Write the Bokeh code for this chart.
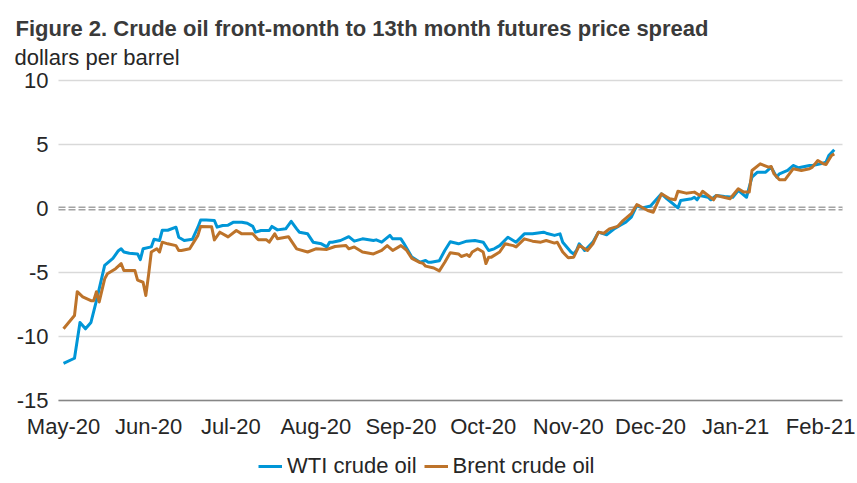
import pandas as pd
from bokeh.plotting import figure
from bokeh.models import (Range1d, FixedTicker, DatetimeTickFormatter, Span, Grid,
                          Label, Legend, LegendItem)
from bokeh.embed import file_html
from bokeh.resources import INLINE

title_text = "Figure 2. Crude oil front-month to 13th month futures price spread"
unit_text = "dollars per barrel"

wti_dates = [
    "2020-05-01", "2020-05-05", "2020-05-07", "2020-05-09", "2020-05-11", "2020-05-13",
    "2020-05-16", "2020-05-19", "2020-05-21", "2020-05-22", "2020-05-23", "2020-05-25",
    "2020-05-28", "2020-05-29", "2020-05-30", "2020-06-02", "2020-06-03", "2020-06-05",
    "2020-06-06", "2020-06-08", "2020-06-11", "2020-06-12", "2020-06-14", "2020-06-17",
    "2020-06-19", "2020-06-20", "2020-06-22", "2020-06-25", "2020-06-26", "2020-06-28",
    "2020-06-30", "2020-07-02", "2020-07-05", "2020-07-07", "2020-07-09", "2020-07-10",
    "2020-07-12", "2020-07-15", "2020-07-16", "2020-07-18", "2020-07-21", "2020-07-23",
    "2020-07-25", "2020-07-26", "2020-07-29", "2020-07-31", "2020-08-03", "2020-08-05",
    "2020-08-06", "2020-08-07", "2020-08-10", "2020-08-13", "2020-08-15", "2020-08-18",
    "2020-08-22", "2020-08-23", "2020-08-25", "2020-08-28", "2020-08-29", "2020-09-01",
    "2020-09-02", "2020-09-05", "2020-09-08", "2020-09-10", "2020-09-11", "2020-09-12",
    "2020-09-15", "2020-09-17", "2020-09-19", "2020-09-22", "2020-09-25", "2020-09-28",
    "2020-10-01", "2020-10-03", "2020-10-05", "2020-10-07", "2020-10-10", "2020-10-13",
    "2020-10-16", "2020-10-19", "2020-10-23", "2020-10-24", "2020-10-27", "2020-10-29",
    "2020-10-30", "2020-11-02", "2020-11-03", "2020-11-04", "2020-11-05", "2020-11-06",
    "2020-11-07", "2020-11-10", "2020-11-12", "2020-11-15", "2020-11-18", "2020-11-20",
    "2020-11-22", "2020-11-24", "2020-11-26", "2020-11-28", "2020-12-01", "2020-12-05",
    "2020-12-07", "2020-12-11", "2020-12-12", "2020-12-16", "2020-12-17", "2020-12-18",
    "2020-12-19", "2020-12-22", "2020-12-23", "2020-12-25", "2020-12-28", "2020-12-31",
    "2021-01-02", "2021-01-05", "2021-01-07", "2021-01-09", "2021-01-12", "2021-01-14",
    "2021-01-16", "2021-01-17", "2021-01-20", "2021-01-22", "2021-01-24", "2021-01-28",
    "2021-01-29", "2021-02-01", "2021-02-03", "2021-02-04", "2021-02-06",
]
wti = [
    -12.1, -11.7, -8.9, -9.4, -8.9, -7.2,
    -4.45, -3.9, -3.3, -3.15, -3.4, -3.5,
    -3.55, -4.0, -3.15, -3.0, -2.4, -2.5,
    -1.7, -1.7, -1.46, -2.24, -2.5, -2.4,
    -1.46, -0.9, -0.9, -0.94, -1.46, -1.33,
    -1.3, -1.07, -1.07, -1.15, -1.4, -1.85,
    -1.72, -1.72, -1.4, -1.67, -1.59, -1.0,
    -1.59, -1.85, -1.98, -2.63, -2.76, -3.0,
    -2.63, -2.63, -2.5, -2.2, -2.55, -2.37,
    -2.5, -2.45, -2.63, -2.1, -2.37, -2.37,
    -2.7, -3.8, -4.2, -4.06, -4.2, -4.2,
    -4.08, -3.28, -2.6, -2.76, -2.55, -2.5,
    -2.63, -3.28, -3.15, -2.9, -2.24, -2.63,
    -1.98, -1.98, -1.85, -1.93, -2.1, -1.98,
    -2.63, -3.4, -3.55, -3.28, -2.76, -3.0,
    -3.28, -2.63, -1.85, -2.05, -1.55, -1.3,
    -1.07, -0.68, 0.23, 0.05, 0.2, 1.15,
    0.76, 0.05, 0.63, 0.76, 0.88, 0.68,
    1.02, 0.88, 0.68, 1.02, 0.94, 0.88,
    1.41, 0.88, 2.45, 2.84, 2.84, 3.23,
    2.45, 2.71, 2.97, 3.36, 3.18, 3.36,
    3.36, 3.49, 3.62, 4.14, 4.59,
]

brent_dates = [
    "2020-05-01", "2020-05-05", "2020-05-06", "2020-05-08", "2020-05-11", "2020-05-12",
    "2020-05-13", "2020-05-14", "2020-05-16", "2020-05-17", "2020-05-20", "2020-05-22",
    "2020-05-23", "2020-05-27", "2020-05-28", "2020-05-30", "2020-05-31", "2020-06-01",
    "2020-06-02", "2020-06-04", "2020-06-05", "2020-06-06", "2020-06-08", "2020-06-11",
    "2020-06-12", "2020-06-13", "2020-06-16", "2020-06-19", "2020-06-20", "2020-06-24",
    "2020-06-25", "2020-06-27", "2020-06-30", "2020-07-03", "2020-07-05", "2020-07-09",
    "2020-07-11", "2020-07-14", "2020-07-15", "2020-07-17", "2020-07-18", "2020-07-22",
    "2020-07-25", "2020-07-29", "2020-08-01", "2020-08-05", "2020-08-08", "2020-08-12",
    "2020-08-13", "2020-08-15", "2020-08-18", "2020-08-22", "2020-08-25", "2020-08-27",
    "2020-08-29", "2020-09-01", "2020-09-03", "2020-09-05", "2020-09-08", "2020-09-09",
    "2020-09-10", "2020-09-13", "2020-09-15", "2020-09-17", "2020-09-19", "2020-09-22",
    "2020-09-23", "2020-09-25", "2020-09-26", "2020-09-27", "2020-09-29", "2020-10-01",
    "2020-10-02", "2020-10-03", "2020-10-04", "2020-10-07", "2020-10-09", "2020-10-12",
    "2020-10-13", "2020-10-16", "2020-10-19", "2020-10-22", "2020-10-24", "2020-10-27",
    "2020-10-28", "2020-10-30", "2020-11-01", "2020-11-03", "2020-11-05", "2020-11-06",
    "2020-11-08", "2020-11-10", "2020-11-12", "2020-11-14", "2020-11-16", "2020-11-19",
    "2020-11-21", "2020-11-24", "2020-11-26", "2020-11-27", "2020-11-30", "2020-12-02",
    "2020-12-05", "2020-12-08", "2020-12-10", "2020-12-11", "2020-12-14", "2020-12-17",
    "2020-12-19", "2020-12-20", "2020-12-22", "2020-12-24", "2020-12-25", "2020-12-30",
    "2021-01-02", "2021-01-04", "2021-01-06", "2021-01-07", "2021-01-10", "2021-01-13",
    "2021-01-14", "2021-01-15", "2021-01-17", "2021-01-19", "2021-01-22", "2021-01-25",
    "2021-01-28", "2021-01-29", "2021-01-31", "2021-02-02", "2021-02-03", "2021-02-05",
    "2021-02-06",
]
brent = [
    -9.4, -8.36, -6.5, -6.9, -7.2, -7.2,
    -6.5, -7.3, -5.5, -5.1, -4.7, -4.3,
    -4.84, -4.84, -5.6, -5.76, -6.8, -5.2,
    -3.4, -3.15, -3.4, -2.63, -2.76, -2.9,
    -3.28, -3.28, -3.15, -2.1, -1.4, -1.43,
    -2.45, -1.85, -2.22, -1.72, -1.98, -1.98,
    -2.45, -2.45, -2.63, -1.98, -2.37, -2.2,
    -3.15, -3.4, -3.15, -3.2, -2.97, -2.9,
    -3.15, -3.0, -3.4, -3.55, -3.28, -2.9,
    -3.28, -2.9, -3.24, -3.9, -4.23, -4.28,
    -4.5, -4.65, -4.87, -4.2, -3.45, -3.55,
    -3.75, -3.6, -3.75, -3.4, -3.15, -3.4,
    -4.3, -3.8, -3.8, -3.4, -2.76, -2.9,
    -3.0, -2.37, -2.55, -2.63, -2.5, -2.7,
    -2.63, -3.4, -3.85, -3.8, -2.9, -3.0,
    -3.28, -2.76, -1.85, -1.93, -1.59, -1.4,
    -0.94, -0.4, 0.3, 0.2, -0.16, -0.29,
    1.15, 0.76, 0.68, 1.35, 1.2, 1.28,
    1.02, 1.35, 1.02, 0.68, 1.02, 0.76,
    1.54, 1.28, 1.28, 2.97, 3.49, 3.23,
    3.28, 2.71, 2.24, 2.24, 3.1, 2.97,
    3.1, 3.23, 3.75, 3.49, 3.44, 4.14,
    4.27,
]

month_ticks = ["2020-05-01", "2020-06-01", "2020-07-01", "2020-08-01", "2020-09-01",
               "2020-10-01", "2020-11-01", "2020-12-01", "2021-01-01", "2021-02-01"]
month_labels = ["May-20", "Jun-20", "Jul-20", "Aug-20", "Sep-20",
                "Oct-20", "Nov-20", "Dec-20", "Jan-21", "Feb-21"]
y_ticks = [-15, -10, -5, 0, 5, 10]
y_tick_labels = ["-15", "-10", "-5", "0", "5", "10"]
zero_line = [0]

FONT = "Liberation Sans"
TXT = "#262626"

# chart area (axis extent); the frame covers the whole canvas so that
# titles, tick labels and legend are all drawn inside it without clipping
x_start = pd.Timestamp("2020-04-29 04:00")
x_end = pd.Timestamp("2021-02-09 00:00")
xs_ms = x_start.value // 10**6
xe_ms = x_end.value // 10**6
PX_PER_DAY = 2.743
PX_PER_UNIT = 12.8
frame_x0 = x_start - pd.Timedelta(days=58 / PX_PER_DAY)
frame_x1 = x_end + pd.Timedelta(days=15 / PX_PER_DAY)
frame_y0 = y_ticks[0] - 83 / PX_PER_UNIT
frame_y1 = y_ticks[-1] + 80 / PX_PER_UNIT

p = figure(width=857, height=483, x_axis_type="datetime", output_backend="svg",
           toolbar_location=None, title=None,
           x_range=Range1d(frame_x0, frame_x1),
           y_range=Range1d(frame_y0, frame_y1),
           min_border_left=0, min_border_right=0, min_border_top=0, min_border_bottom=0)
p.outline_line_color = None
p.background_fill_color = "white"
p.border_fill_color = "white"

# x axis pinned at -15
tick_ms = [int(pd.Timestamp(d).value // 10**6) for d in month_ticks]
xa = p.xaxis[0]
xa.fixed_location = y_ticks[0]
xa.bounds = (xs_ms, xe_ms)
xa.ticker = FixedTicker(ticks=tick_ms)
xa.formatter = DatetimeTickFormatter(days="%b-%y", months="%b-%y", years="%b-%y",
                                     hours="%b-%y", minutes="%b-%y")
xa.major_label_overrides = {t: l for t, l in zip(tick_ms, month_labels)}
xa.major_tick_line_color = None
xa.minor_tick_line_color = None
xa.major_tick_out = 0
xa.major_tick_in = 0
xa.axis_line_color = "#868686"
xa.axis_line_width = 1.3
xa.major_label_standoff = 13
xa.major_label_text_font = FONT
xa.major_label_text_font_size = "22px"
xa.major_label_text_color = TXT

# y axis pinned at the left edge of the chart area
ya = p.yaxis[0]
ya.fixed_location = xs_ms
ya.ticker = FixedTicker(ticks=y_ticks)
ya.major_label_overrides = {t: l for t, l in zip(y_ticks, y_tick_labels)}
ya.axis_line_color = None
ya.major_tick_line_color = None
ya.minor_tick_line_color = None
ya.major_tick_out = 0
ya.major_tick_in = 0
ya.major_label_standoff = 10
ya.major_label_text_font = FONT
ya.major_label_text_font_size = "22px"
ya.major_label_text_color = TXT

has_cb = "cross_bounds" in Grid.properties()

p.xgrid.grid_line_color = None
yg = p.ygrid[0]
yg.ticker = FixedTicker(ticks=[t for t in y_ticks if t not in zero_line])
yg.grid_line_color = "#d9d9d9"
yg.grid_line_width = 1.3
if has_cb:
    yg.cross_bounds = (xs_ms, xe_ms)

# zero line (double dashed)
if has_cb:
    g1 = Grid(dimension=1, ticker=FixedTicker(ticks=zero_line), cross_bounds=(xs_ms, xe_ms),
              grid_line_color="#a3a3a3", grid_line_width=4, grid_line_dash="7 3")
    g2 = Grid(dimension=1, ticker=FixedTicker(ticks=zero_line), cross_bounds=(xs_ms, xe_ms),
              grid_line_color="white", grid_line_width=1.2)
    p.add_layout(g1, "center")
    p.add_layout(g2, "center")
else:
    p.add_layout(Span(location=0, dimension="width", line_color="#a3a3a3",
                      line_width=4, line_dash="7 3"))
    p.add_layout(Span(location=0, dimension="width", line_color="white", line_width=1.2))

r_wti = p.line(x=pd.to_datetime(wti_dates), y=wti, line_color="#0096d7",
               line_width=3, line_join="round")
r_brent = p.line(x=pd.to_datetime(brent_dates), y=brent, line_color="#bd732a",
                 line_width=3, line_join="round")

legend = Legend(items=[LegendItem(label="WTI crude oil", renderers=[r_wti]),
                       LegendItem(label="Brent crude oil", renderers=[r_brent])],
                location=(258, 4), orientation="horizontal",
                glyph_width=24, glyph_height=20, label_standoff=5, spacing=7,
                padding=0, margin=0, border_line_color=None,
                background_fill_alpha=0,
                label_text_font=FONT, label_text_font_size="22px",
                label_text_color=TXT)
p.add_layout(legend, "center")

p.add_layout(Label(x=15, y=455, x_units="screen", y_units="screen", text=title_text,
                   text_font=FONT, text_font_style="bold", text_font_size="22px",
                   text_color="#3a3a3a", text_baseline="alphabetic"))
p.add_layout(Label(x=14, y=426, x_units="screen", y_units="screen", text=unit_text,
                   text_font=FONT, text_font_size="22px", text_color=TXT,
                   text_baseline="alphabetic"))

open("out.html", "w").write(file_html(p, INLINE))
